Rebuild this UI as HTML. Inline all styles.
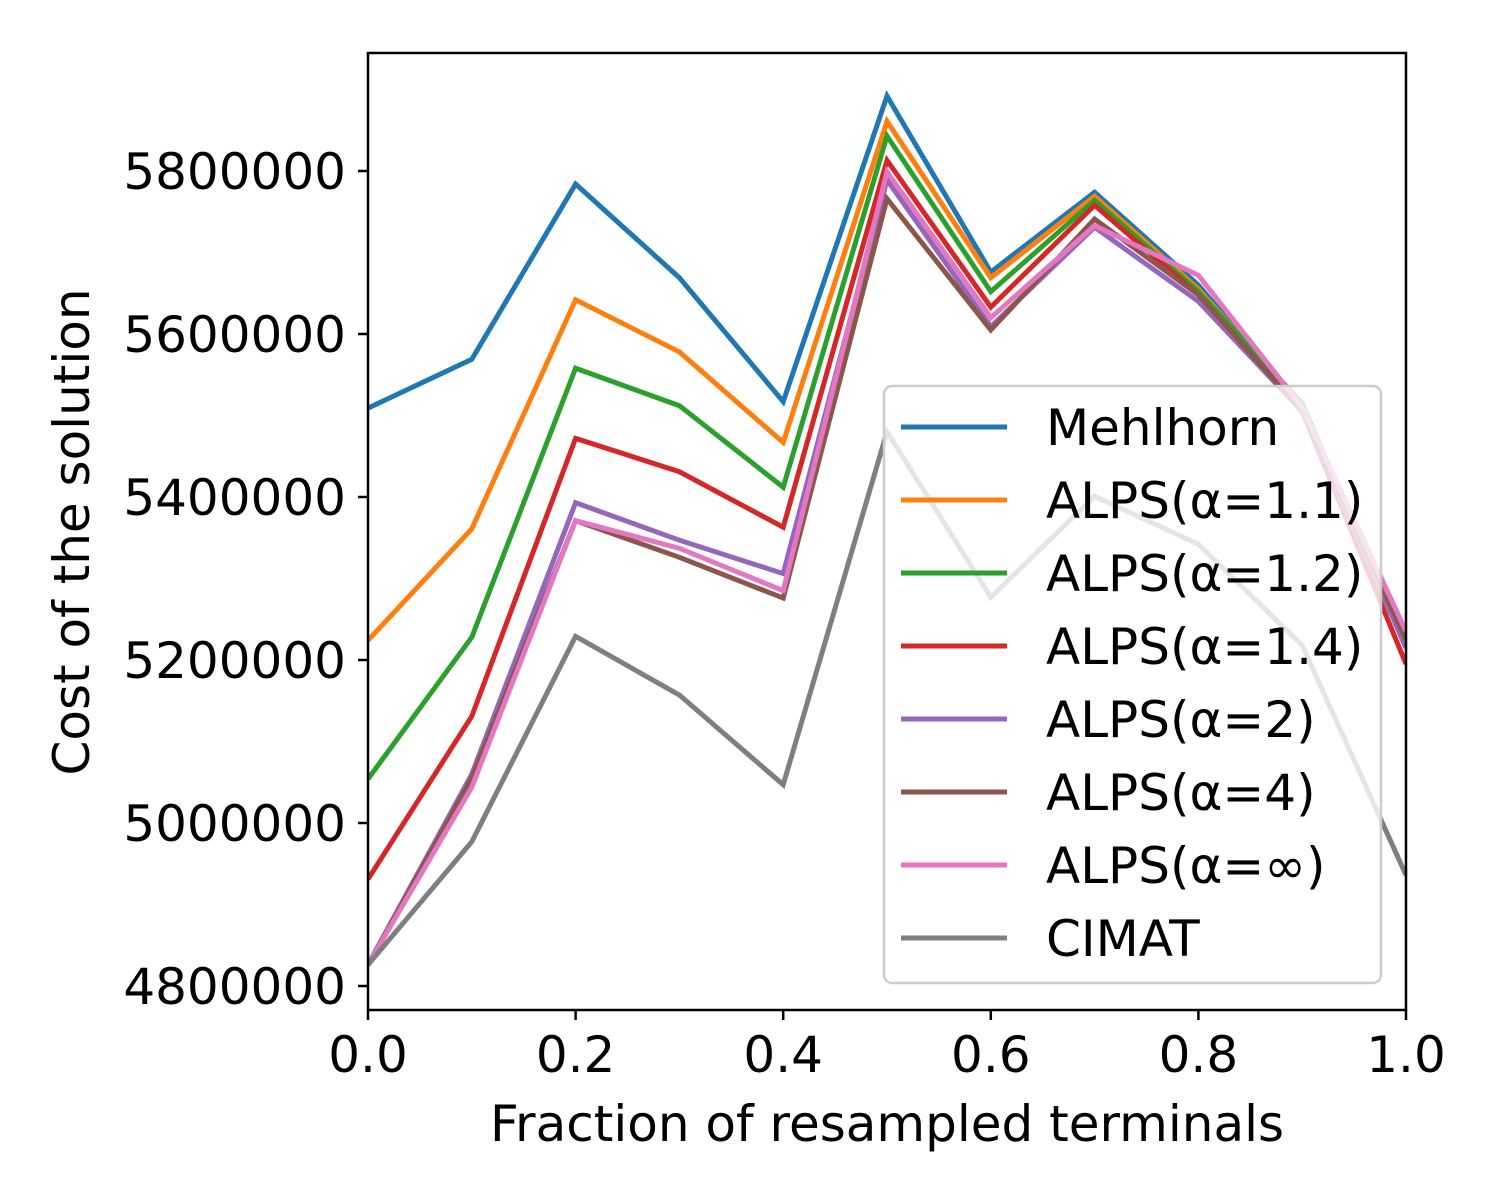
<!DOCTYPE html>
<html><head><meta charset="utf-8"><style>
html,body{margin:0;padding:0;background:#fff;}
svg{display:block;font-family:"DejaVu Sans","Liberation Sans",sans-serif;}
</style></head><body>
<svg id="chart" width="1500" height="1200" viewBox="0 0 1500 1200" xmlns="http://www.w3.org/2000/svg">
<rect x="0" y="0" width="1500" height="1200" fill="#fff"/>
<g id="series"></g>
<g id="axes"></g>
<g id="legend"></g>
<text x="887" y="1141" font-size="50" text-anchor="middle">Fraction of resampled terminals</text>
<text x="0" y="0" font-size="50" text-anchor="middle" transform="translate(89,532) rotate(-90)">Cost of the solution</text>
</svg>
<script>
const xValues = [0,0.1,0.2,0.3,0.4,0.5,0.6,0.7,0.8,0.9,1.0];
const seriesNames = ["Mehlhorn","ALPS(α=1.1)","ALPS(α=1.2)","ALPS(α=1.4)","ALPS(α=2)","ALPS(α=4)","ALPS(α=∞)","CIMAT"];
const mehlhorn = [5509000,5569000,5784000,5669000,5517000,5892000,5676000,5774000,5660000,5510000,5215000];
const alps11 = [5224000,5361000,5642000,5578000,5467000,5861000,5669000,5769000,5655000,5512000,5220000];
const alps12 = [5054000,5228000,5558000,5512000,5412000,5843000,5652000,5764000,5652000,5515000,5218000];
const alps14 = [4931000,5131000,5472000,5431000,5363000,5813000,5633000,5758000,5648000,5505000,5195000];
const alps2 = [4826000,5060000,5393000,5347000,5306000,5789000,5609000,5731000,5640000,5505000,5215000];
const alps4 = [4826000,5055000,5371000,5326000,5276000,5766000,5605000,5741000,5648000,5505000,5225000];
const alpsInf = [4826000,5044000,5371000,5337000,5285000,5799000,5620000,5733000,5672000,5510000,5235000];
const cimat = [4826000,4977000,5229000,5157000,5047000,5480000,5277000,5401000,5342000,5218000,4936000];
const xTicks = [0,0.2,0.4,0.6,0.8,1.0];
const xTickLabels = ["0.0","0.2","0.4","0.6","0.8","1.0"];
const yTicks = [4800000,5000000,5200000,5400000,5600000,5800000];
const yTickLabels = ["4800000","5000000","5200000","5400000","5600000","5800000"];
const colors = ["#1f77b4","#ff7f0e","#2ca02c","#d62728","#9467bd","#8c564b","#e377c2","#7f7f7f"];
const allSeries = [mehlhorn,alps11,alps12,alps14,alps2,alps4,alpsInf,cimat];

const NS="http://www.w3.org/2000/svg";
const L=368,R=1406,T=53,B=1010;
const xMin=0,xMax=1,yMin=4770552,yMax=5944785;
function sx(v){return L+(v-xMin)/(xMax-xMin)*(R-L);}
function sy(v){return B-(v-yMin)/(yMax-yMin)*(B-T);}
function mk(tag,attrs,parent){const e=document.createElementNS(NS,tag);for(const k in attrs)e.setAttribute(k,attrs[k]);parent.appendChild(e);return e;}

const sg=document.getElementById('series');
const clip=mk('clipPath',{id:'pc'},sg);mk('rect',{x:L,y:T,width:R-L,height:B-T},clip);
allSeries.forEach((s,i)=>{
  const p=mk('polyline',{points:s.map((v,j)=>sx(xValues[j])+','+sy(v)).join(' '),fill:'none',stroke:colors[i],'stroke-width':5,'stroke-linejoin':'miter','clip-path':'url(#pc)'},sg);
  
  
});

const ag=document.getElementById('axes');
const frame=mk('rect',{x:L,y:T,width:R-L,height:B-T,fill:'none',stroke:'#000','stroke-width':2.5},ag);


xTicks.forEach((v,i)=>{
  const x=sx(v);
  mk('line',{x1:x,y1:B,x2:x,y2:B+10,stroke:'#000','stroke-width':2.5},ag);
  const t=mk('text',{x:x,y:B+62,'font-size':50,'text-anchor':'middle'},ag);
  t.textContent=xTickLabels[i];
  
  
});
yTicks.forEach((v,i)=>{
  const y=sy(v);
  mk('line',{x1:L-10,y1:y,x2:L,y2:y,stroke:'#000','stroke-width':2.5},ag);
  const t=mk('text',{x:L-22,y:y+18,'font-size':50,'text-anchor':'end'},ag);
  t.textContent=yTickLabels[i];
  
  
});

const lg=document.getElementById('legend');
const box=mk('rect',{x:884,y:386,width:497,height:597,rx:8,fill:'#fff','fill-opacity':0.8,stroke:'#cccccc','stroke-width':2.5},lg);


seriesNames.forEach((n,i)=>{
  const y=427+i*73;
  const ln=mk('line',{x1:901,y1:y,x2:1007,y2:y,stroke:colors[i],'stroke-width':5},lg);
  
  
  const t=mk('text',{x:1046,y:y+18,'font-size':50},lg);
  t.textContent=n;
  
  
});
</script>
</body></html>
